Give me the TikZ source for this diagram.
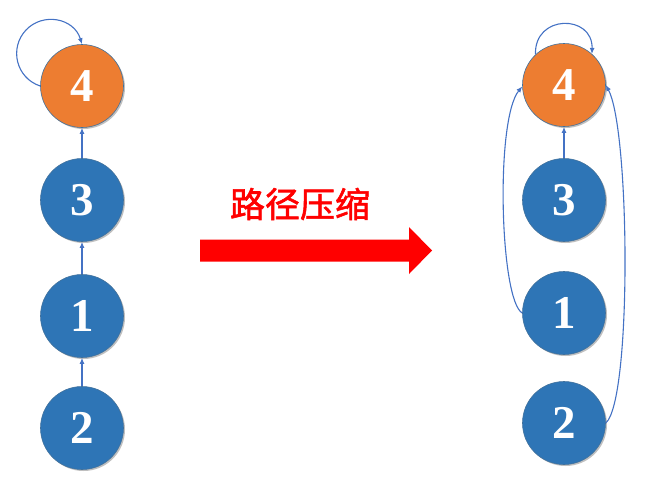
\documentclass[tikz,border=0pt]{standalone}
\usepackage{fontspec}
\setmainfont{Liberation Serif}
\newfontfamily\cjk[FakeBold=1.6]{Noto Sans CJK SC}
\usetikzlibrary{arrows.meta,shadows}
\definecolor{nodeblue}{HTML}{2E75B6}
\definecolor{nodeorange}{HTML}{ED7D31}
\definecolor{bordc}{HTML}{41719C}
\definecolor{linec}{HTML}{4472C4}
\definecolor{redc}{HTML}{FF0000}
\begin{document}
\begin{tikzpicture}[x=1pt,y=-1pt,
  nd/.style={circle, minimum size=83pt, inner sep=0pt, draw=bordc, line width=0.6pt,
    text=white, font=\fontsize{47}{47}\selectfont\bfseries,
    drop shadow={shadow xshift=1.5pt, shadow yshift=-1.5pt, opacity=0.25, fill=black}},
  blu/.style={nd, fill=nodeblue},
  org/.style={nd, fill=nodeorange},
  con/.style={draw=linec, line width=1.1pt, -{Latex[length=6pt,width=5pt]}}]
\useasboundingbox (0,0) rectangle (645,485);
% left column
\node[org] (L4) at (82,86) {4};
\node[blu] (L3) at (82,200) {3};
\node[blu] (L1) at (82,316) {1};
\node[blu] (L2) at (82,428) {2};
% right column
\node[org] (R4) at (564,85) {4};
\node[blu] (R3) at (564,200) {3};
\node[blu] (R1) at (564,313) {1};
\node[blu] (R2) at (564,423) {2};
% left edges
\draw[con] (L3.north) -- (L4.south);
\draw[con] (L1.north) -- (L3.south);
\draw[con] (L2.north) -- (L1.south);
\draw[con] (L4.west) .. controls (16,78) and (9,48) .. (26,30)
  .. controls (43,12) and (74,18) .. (L4.north);
% right edges
\draw[con] (R3.north) -- (R4.south);
\draw[con] (R4.133) .. controls (534,14) and (593,14) .. (R4.48);
\draw[con] (R1.west) .. controls (500,300) and (495,120) .. (R4.182);
\draw[con] (R2.east) .. controls (632,400) and (630,130) .. (R4.east);
% big red arrow
\fill[redc] (200,239.5) -- (409,239.5) -- (409,227) -- (432,250.5) -- (409,274)
  -- (409,261.5) -- (200,261.5) -- cycle;
\node[text=redc, font=\cjk\fontsize{35}{35}\selectfont] (lbl) at (300,204) {路径压缩};
\end{tikzpicture}
\end{document}
